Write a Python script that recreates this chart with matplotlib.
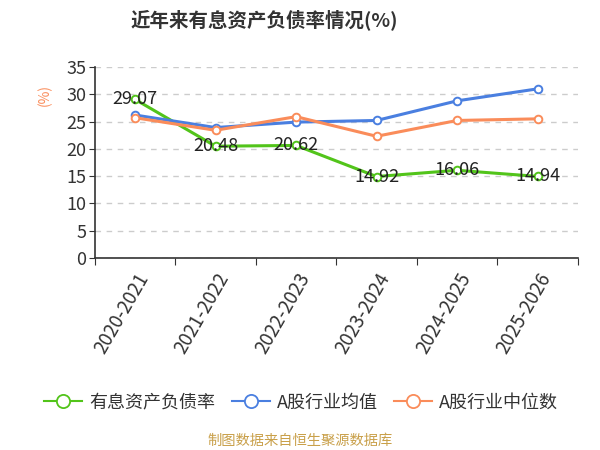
import matplotlib
matplotlib.use("Agg")
import matplotlib.pyplot as plt
from matplotlib.lines import Line2D

plt.rcParams['font.family'] = ['Noto Sans CJK SC', 'DejaVu Sans']

years = ["2020-2021", "2021-2022", "2022-2023", "2023-2024", "2024-2025", "2025-2026"]
company = [29.07, 20.48, 20.62, 14.92, 16.06, 14.94]
industry_mean = [26.2, 23.9, 24.9, 25.2, 28.8, 31.0]
industry_median = [25.7, 23.4, 25.9, 22.3, 25.2, 25.5]

names = ["有息资产负债率", "A股行业均值", "A股行业中位数"]
colors = ["#52c41a", "#4a7fe0", "#fa8c5a"]

fig = plt.figure(figsize=(6, 4.5), dpi=100)
ax = fig.add_axes([0.158, 0.427, 0.805, 0.424])

x = list(range(len(years)))
for vals, c, n in zip([company, industry_mean, industry_median], colors, names):
    ax.plot(x, vals, color=c, linewidth=2.2, marker='o', markersize=5.5,
            markerfacecolor='white', markeredgecolor=c, markeredgewidth=1.4,
            label=n, zorder=3)

for xi, v in zip(x, company):
    ax.text(xi, v, f"{v:.2f}", ha='center', va='center', fontsize=13,
            color='#222222', zorder=5)

ax.set_ylim(0, 35)
ax.set_yticks(range(0, 36, 5))
ax.set_xlim(-0.5, len(years) - 0.5)
ax.set_xticks([i - 0.5 for i in range(len(years) + 1)])
ax.set_xticklabels([])
ax.set_xticks(x, minor=True)
ax.set_xticklabels(years, minor=True, rotation=60, ha='right', va='top',
                   rotation_mode='anchor', fontsize=13.5, color='#333333')
ax.tick_params(axis='x', which='minor', length=0, pad=8)
ax.tick_params(axis='x', which='major', length=5, color='#333333')
ax.tick_params(axis='y', length=4, color='#333333', labelsize=13,
               labelcolor='#333333', pad=2)

ax.grid(axis='y', linestyle=(0, (4, 4)), color='#cccccc', linewidth=1)
ax.set_axisbelow(True)
for s in ['top', 'right']:
    ax.spines[s].set_visible(False)
for s in ['left', 'bottom']:
    ax.spines[s].set_color('#333333')
    ax.spines[s].set_linewidth(1.2)

fig.text(0.075, 0.79, "(%)", rotation=90, color='#fa8c5a', fontsize=10,
         ha='center', va='center')

fig.text(0.44, 0.957, "近年来有息资产负债率情况(%)", ha='center', va='center',
         fontsize=14, fontweight='bold', color='#333333')

handles = [Line2D([0], [0], color=c, linewidth=1.5, marker='o', markersize=9.5,
                  markerfacecolor='white', markeredgecolor=c, markeredgewidth=1.3)
           for c in colors]
fig.legend(handles, names, loc='center', bbox_to_anchor=(0.502, 0.105),
           ncol=3, frameon=False, fontsize=13, handlelength=2.1,
           columnspacing=0.9, handletextpad=0.4, labelcolor='#333333')

fig.text(0.5, 0.02, "制图数据来自恒生聚源数据库", ha='center', va='center',
         fontsize=10.3, color='#c9a04a')

fig.savefig("out.png", dpi=100)
